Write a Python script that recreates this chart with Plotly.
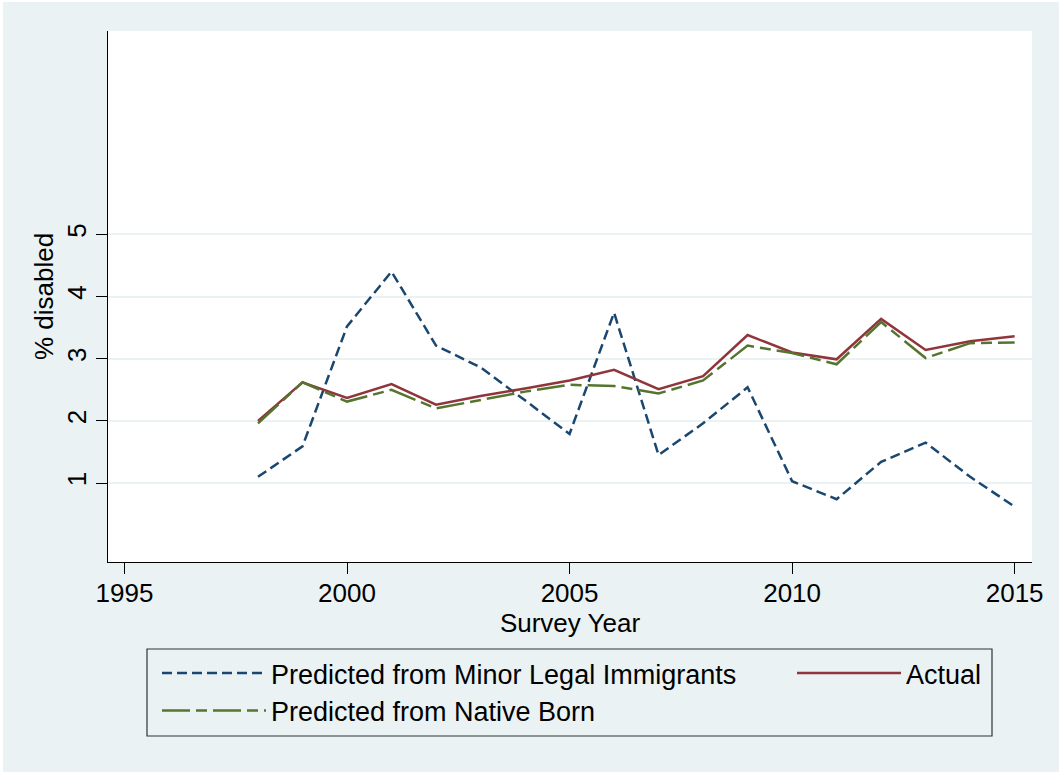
import plotly.graph_objects as go

years = [1998, 1999, 2000, 2001, 2002, 2003, 2004, 2005, 2006, 2007, 2008,
         2009, 2010, 2011, 2012, 2013, 2014, 2015]
pred_minor = [1.10, 1.59, 3.52, 4.40, 3.21, 2.86, 2.33, 1.79, 3.74, 1.45, 1.96,
              2.54, 1.03, 0.74, 1.34, 1.65, 1.10, 0.62]
actual = [2.00, 2.62, 2.37, 2.59, 2.26, 2.40, 2.52, 2.65, 2.82, 2.51, 2.72,
          3.38, 3.10, 2.99, 3.64, 3.14, 3.28, 3.36]
pred_native = [1.96, 2.62, 2.31, 2.50, 2.20, 2.33, 2.47, 2.58, 2.56, 2.44, 2.65,
               3.21, 3.09, 2.91, 3.59, 3.01, 3.25, 3.26]
x_ticks = [1995, 2000, 2005, 2010, 2015]
y_ticks = [1, 2, 3, 4, 5]

FONT = "Liberation Sans, Arial, sans-serif"
BG = "#EAF2F3"
NAVY = "#1A476F"
MAROON = "#90353B"
GREEN = "#55752F"

fig = go.Figure()
fig.add_trace(go.Scatter(x=years, y=pred_minor, mode="lines",
                         name="Predicted from Minor Legal Immigrants",
                         line=dict(color=NAVY, width=2.5, dash="10px,5px"),
                         legend="legend"))
fig.add_trace(go.Scatter(x=years, y=actual, mode="lines", name="Actual",
                         line=dict(color=MAROON, width=2.5),
                         legend="legend2"))
fig.add_trace(go.Scatter(x=years, y=pred_native, mode="lines",
                         name="Predicted from Native Born",
                         line=dict(color=GREEN, width=2.5, dash="28px,6px,11px,6px"),
                         legend="legend3"))

W, H = 1059, 772
L, R, T, B = 108, 27, 31, 210
pw, ph = W - L - R, H - T - B


def px_x(p):
    return (p - L) / pw


def px_y(p):
    return (H - B - p) / ph


leg_common = dict(orientation="h", bgcolor="rgba(0,0,0,0)", borderwidth=0,
                  font=dict(family=FONT, size=27, color="black"),
                  itemwidth=104, xanchor="left", yanchor="middle",
                  xref="paper", yref="paper")

fig.update_layout(
    width=W, height=H,
    margin=dict(l=L, r=R, t=T, b=B),
    paper_bgcolor="white",
    plot_bgcolor="white",
    font=dict(family=FONT, size=26, color="black"),
    showlegend=True,
    legend=dict(x=px_x(157), y=px_y(673.5), **leg_common),
    legend2=dict(x=px_x(792), y=px_y(673.5), **leg_common),
    legend3=dict(x=px_x(157), y=px_y(711), **leg_common),
    xaxis=dict(range=[1994.63, 2015.39], tickvals=x_ticks,
               showgrid=False, zeroline=False,
               showline=True, linecolor="black", linewidth=1.2,
               ticks="outside", ticklen=11, tickwidth=1.2, tickcolor="black",
               tickfont=dict(size=26), ticklabelstandoff=-3,
               title=dict(text="Survey Year", font=dict(size=26), standoff=0)),
    yaxis=dict(range=[-0.27, 8.27], tickvals=y_ticks, tickangle=-90,
               showgrid=True, gridcolor=BG, gridwidth=2, zeroline=False,
               showline=True, linecolor="black", linewidth=1.2,
               ticks="outside", ticklen=11, tickwidth=1.2, tickcolor="black",
               tickfont=dict(size=26),
               title=dict(text="% disabled", font=dict(size=26), standoff=0)),
    shapes=[
        dict(type="rect", xref="paper", yref="paper", layer="below",
             x0=px_x(3), x1=px_x(W + 20), y0=px_y(2), y1=px_y(H + 20),
             fillcolor=BG, line=dict(width=0)),
        dict(type="rect", xref="paper", yref="paper", layer="below",
             x0=0, x1=1, y0=0, y1=1, fillcolor="white", line=dict(width=0)),
        dict(type="rect", xref="paper", yref="paper", layer="above",
             x0=px_x(147), x1=px_x(992), y0=px_y(649), y1=px_y(736),
             fillcolor="rgba(0,0,0,0)", line=dict(color="#333333", width=1.2)),
    ],
)

fig.write_html("out.html")
